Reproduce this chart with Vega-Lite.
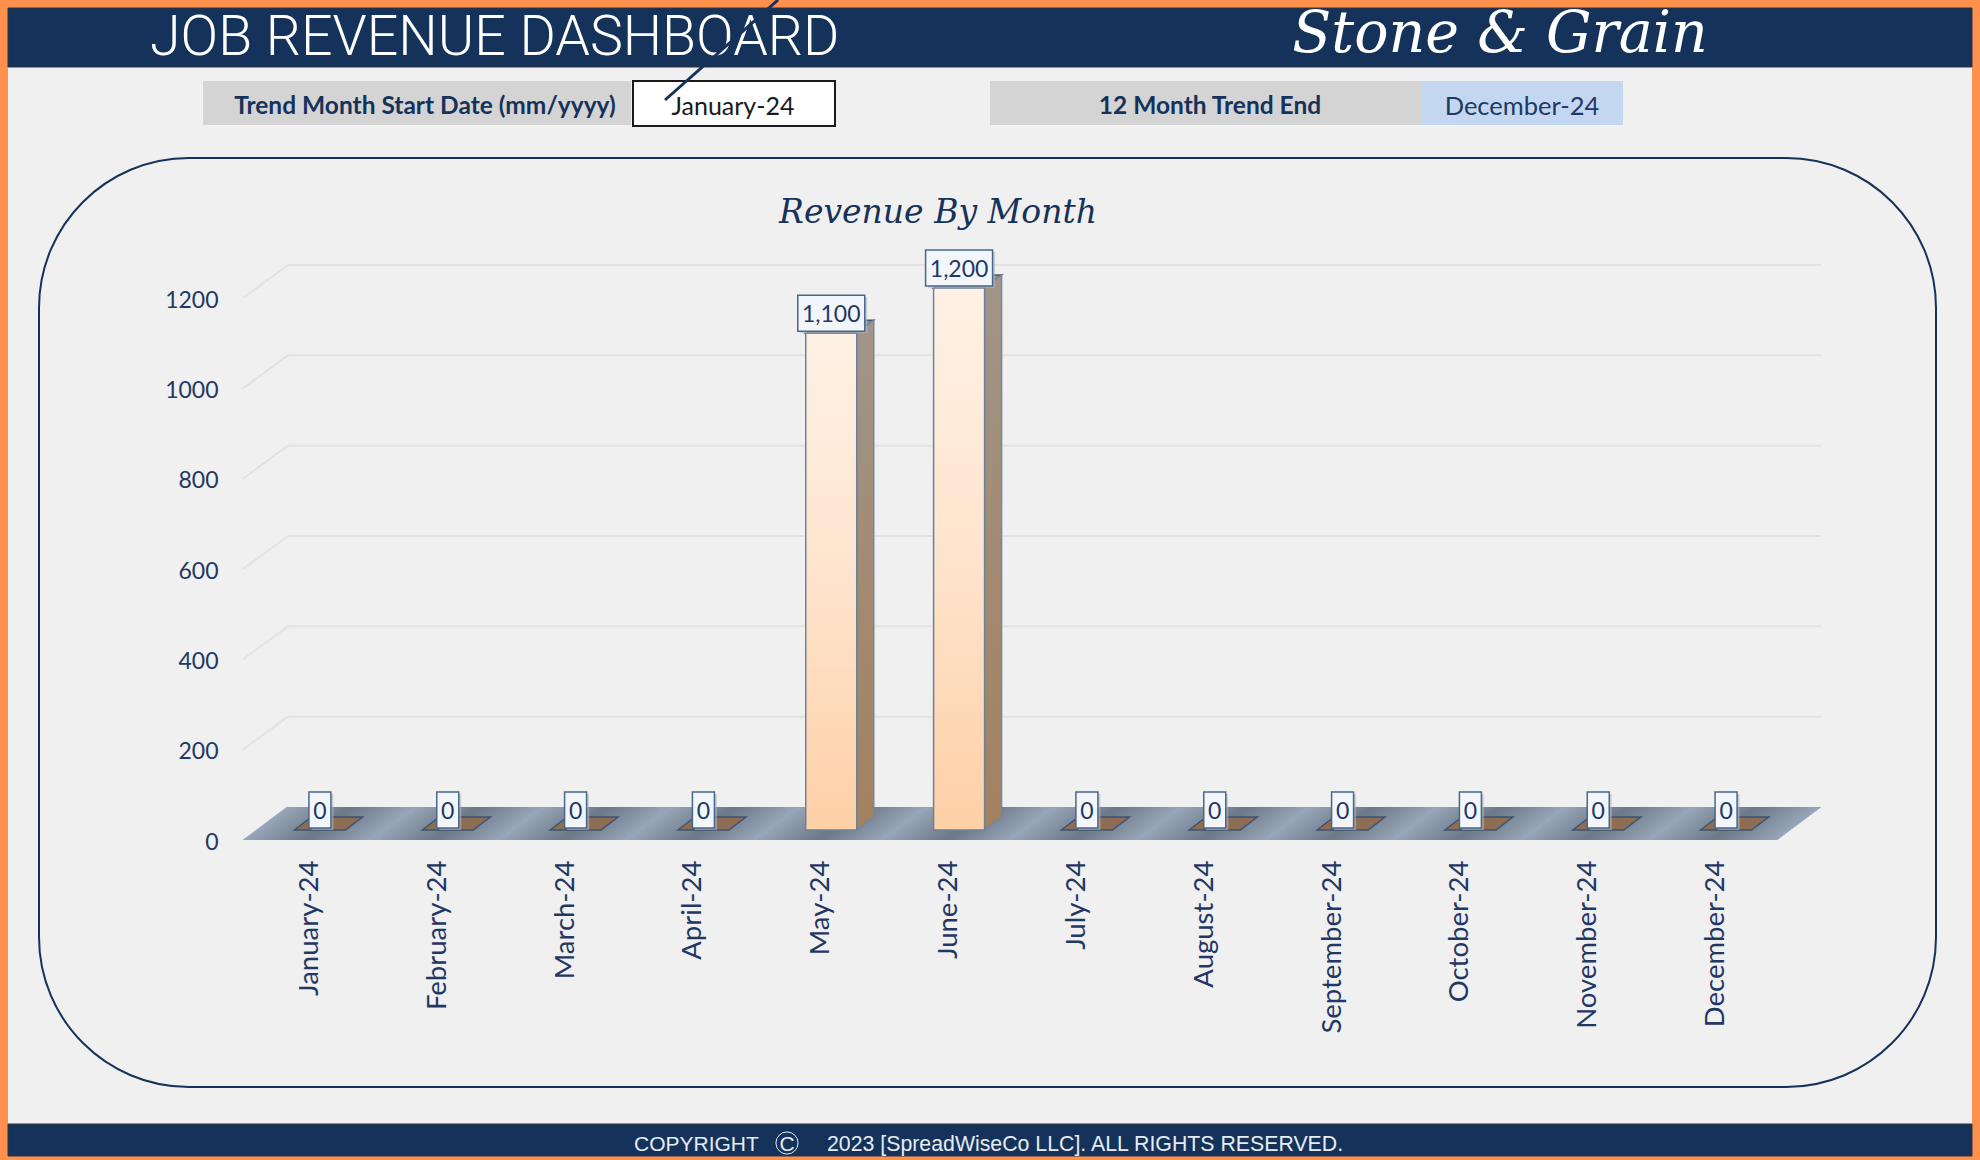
{
"$schema":"https://vega.github.io/schema/vega-lite/v6.json",
"width":1534,"height":542,
"autosize":{"type":"none"},
"padding":{"left":243,"top":298,"right":203,"bottom":320},
"background":"#f0f0f0",
"config":{"view":{"stroke":null},"axis":{"grid":false,"domain":false,"ticks":false,"labelFont":"Lato","labelFontSize":23,"labelColor":"#1f3864"},"text":{"font":"Lato"}},
"datasets":{
"rev":[{"month":"January-24","revenue":0},{"month":"February-24","revenue":0},{"month":"March-24","revenue":0},{"month":"April-24","revenue":0},{"month":"May-24","revenue":1100},{"month":"June-24","revenue":1200},{"month":"July-24","revenue":0},{"month":"August-24","revenue":0},{"month":"September-24","revenue":0},{"month":"October-24","revenue":0},{"month":"November-24","revenue":0},{"month":"December-24","revenue":0}],
"ticks":[{"tick":200},{"tick":400},{"tick":600},{"tick":800},{"tick":1000},{"tick":1200}],
"one":[{"item":"furniture"}]
},
"data":{"name":"rev"},
"layer":[
{"data":{"name":"one"},"mark":{"type":"rect","fill":"#ff914d"},"encoding":{"x":{"value":-243},"x2":{"value":1737},"y":{"value":-298},"y2":{"value":-290}}},
{"data":{"name":"one"},"mark":{"type":"rect","fill":"#ff914d"},"encoding":{"x":{"value":-243},"x2":{"value":1737},"y":{"value":858},"y2":{"value":862}}},
{"data":{"name":"one"},"mark":{"type":"rect","fill":"#ff914d"},"encoding":{"x":{"value":-243},"x2":{"value":-235},"y":{"value":-298},"y2":{"value":862}}},
{"data":{"name":"one"},"mark":{"type":"rect","fill":"#ff914d"},"encoding":{"x":{"value":1729},"x2":{"value":1737},"y":{"value":-298},"y2":{"value":862}}},
{"data":{"name":"one"},"mark":{"type":"rect","fill":"#15325a","stroke":"#2b3440","strokeWidth":1},"encoding":{"x":{"value":-235},"x2":{"value":1729},"y":{"value":-290},"y2":{"value":-231}}},
{"data":{"name":"one"},"mark":{"type":"rect","fill":"#15325a","stroke":"#2b3440","strokeWidth":1},"encoding":{"x":{"value":-235},"x2":{"value":1729},"y":{"value":826},"y2":{"value":858}}},
{"data":{"name":"one"},"mark":{"type":"text","text":"JOB REVENUE DASHBOARD","font":"Roboto","fontWeight":300,"fontSize":55.5,"align":"left","baseline":"alphabetic","fill":"#ffffff"},"encoding":{"x":{"value":-93},"y":{"value":-243}}},
{"data":{"name":"one"},"mark":{"type":"text","text":"Stone & Grain","font":"DejaVu Serif","fontStyle":"italic","fontSize":57,"align":"center","baseline":"alphabetic","fill":"#ffffff"},"encoding":{"x":{"value":1257},"y":{"value":-246}}},
{"data":{"name":"one"},"mark":{"type":"rect","fill":"#d4d4d4"},"encoding":{"x":{"value":-40},"x2":{"value":388},"y":{"value":-217},"y2":{"value":-173}}},
{"data":{"name":"one"},"mark":{"type":"rect","fill":"#ffffff","stroke":"#1a1a1a","strokeWidth":2},"encoding":{"x":{"value":390},"x2":{"value":592},"y":{"value":-217},"y2":{"value":-172}}},
{"data":{"name":"one"},"mark":{"type":"rect","fill":"#d4d4d4"},"encoding":{"x":{"value":747},"x2":{"value":1178},"y":{"value":-217},"y2":{"value":-173}}},
{"data":{"name":"one"},"mark":{"type":"rect","fill":"#c3d7f0"},"encoding":{"x":{"value":1178},"x2":{"value":1380},"y":{"value":-217},"y2":{"value":-173}}},
{"data":{"name":"one"},"mark":{"type":"text","text":"Trend Month Start Date (mm/yyyy)","fontWeight":"bold","fontSize":24.5,"align":"center","baseline":"middle","fill":"#15325a"},"encoding":{"x":{"value":182},"y":{"value":-191}}},
{"data":{"name":"one"},"mark":{"type":"text","text":"January-24","fontSize":25,"align":"center","baseline":"middle","fill":"#1a1a1a"},"encoding":{"x":{"value":490},"y":{"value":-191}}},
{"data":{"name":"one"},"mark":{"type":"text","text":"12 Month Trend End","fontWeight":"bold","fontSize":24.5,"align":"center","baseline":"middle","fill":"#15325a"},"encoding":{"x":{"value":967},"y":{"value":-191}}},
{"data":{"name":"one"},"mark":{"type":"text","text":"December-24","fontSize":25.5,"align":"center","baseline":"middle","fill":"#1f3864"},"encoding":{"x":{"value":1279},"y":{"value":-191}}},
{"data":{"name":"one"},"mark":{"type":"rule","stroke":"#15325a","strokeWidth":3},"encoding":{"x":{"value":535},"x2":{"value":422},"y":{"value":-298},"y2":{"value":-198}}},
{"data":{"name":"one"},"mark":{"type":"rect","fill":"#f0f0f0","fillOpacity":0,"stroke":"#15325a","strokeWidth":2,"cornerRadius":150},"encoding":{"x":{"value":-204},"x2":{"value":1693},"y":{"value":-140},"y2":{"value":789}}},
{"data":{"name":"one"},"mark":{"type":"text","text":"Revenue By Month","font":"DejaVu Serif","fontStyle":"italic","fontSize":33,"align":"center","baseline":"alphabetic","fill":"#15325a"},"encoding":{"x":{"value":695},"y":{"value":-75}}},
{"data":{"name":"one"},"mark":{"type":"text","text":"COPYRIGHT","font":"Liberation Sans","fontSize":21,"align":"left","baseline":"alphabetic","fill":"#e6ecf4"},"encoding":{"x":{"value":391},"y":{"value":853}}},
{"data":{"name":"one"},"mark":{"type":"text","text":"C","font":"Liberation Sans","fontSize":21,"align":"center","baseline":"alphabetic","fill":"#e6ecf4"},"encoding":{"x":{"value":544},"y":{"value":853}}},
{"data":{"name":"one"},"mark":{"type":"point","shape":"circle","size":490,"filled":false,"stroke":"#e6ecf4","strokeWidth":1,"opacity":1},"encoding":{"x":{"value":544},"y":{"value":845}}},
{"data":{"name":"one"},"mark":{"type":"text","text":"2023 [SpreadWiseCo LLC]. ALL RIGHTS RESERVED.","font":"Liberation Sans","fontSize":21.3,"align":"left","baseline":"alphabetic","fill":"#e6ecf4"},"encoding":{"x":{"value":584},"y":{"value":853}}},
{"data":{"name":"ticks"},"mark":{"type":"rule","stroke":"#e2e2e2","strokeWidth":2,"yOffset":-33},"encoding":{"y":{"field":"tick","type":"quantitative","title":null,"scale":{"domain":[0,1200],"nice":false}},"x":{"value":45},"x2":{"value":1578}}},
{"data":{"name":"ticks"},"mark":{"type":"point","shape":"M0,0L45,-33","filled":false,"size":4,"stroke":"#e2e2e2","strokeWidth":2,"opacity":1},"encoding":{"y":{"field":"tick","type":"quantitative","title":null},"x":{"value":0}}},
{"mark":{"type":"point","shape":"M-64.4,0L-20.4,-33L108.4,-33L64.4,0Z","filled":true,"size":4,"opacity":1,"fill":{"gradient":"linear","x1":0,"y1":1,"x2":0.698,"y2":1.179,"stops":[{"offset":0,"color":"#97a6b8"},{"offset":0.3,"color":"#7d8a9b"},{"offset":0.5,"color":"#6c7989"},{"offset":0.7,"color":"#7d8a9b"},{"offset":1,"color":"#97a6b8"}]}},"encoding":{"x":{"field":"month","type":"nominal","sort":null,"title":null,"scale":{"type":"band","paddingInner":0,"paddingOuter":0},"axis":{"labelAngle":270,"labelAlign":"right","labelBaseline":"middle","labelPadding":20,"labelOffset":3,"labelOverlap":false,"labelBound":false,"labelFontSize":27.5}},"y":{"datum":0,"type":"quantitative","title":null,"axis":{"values":[0,200,400,600,800,1000,1200],"format":"d","labelPadding":25,"labelOffset":2}}}},
{"mark":{"type":"point","shape":"M0,0L17,-13L68,-13L51,0Z","filled":true,"size":4,"opacity":1,"stroke":"#3f5270","strokeWidth":1.5,"xOffset":-12.5,"yOffset":-10},"encoding":{"x":{"field":"month","type":"nominal","sort":null,"title":null},"y":{"field":"revenue","type":"quantitative","title":null},"fill":{"condition":{"test":"datum.revenue>0","value":"#9a8b7d"},"value":"#8d6e55"}}},
{"transform":[{"filter":"datum.revenue>0"}],"mark":{"type":"point","filled":true,"size":4,"opacity":1,"stroke":"#7488a0","strokeWidth":1.5,"xOffset":38.5,"yOffset":-10,"fill":{"gradient":"linear","x1":0,"y1":0,"x2":0,"y2":1,"stops":[{"offset":0,"color":"#a19589"},{"offset":1,"color":"#a2815f"}]}},"encoding":{"x":{"field":"month","type":"nominal","sort":null,"title":null},"y":{"field":"revenue","type":"quantitative","title":null},"shape":{"condition":{"test":"datum.revenue===1100","value":"M0,0L17,-13L17,484L0,497Z"},"value":"M0,0L17,-13L17,529L0,542Z"}}},
{"transform":[{"filter":"datum.revenue>0"}],"mark":{"type":"bar","width":51,"xOffset":13,"yOffset":-10,"y2Offset":-10,"stroke":"#6f8198","strokeWidth":1.5,"fill":{"gradient":"linear","x1":0,"y1":0,"x2":0,"y2":1,"stops":[{"offset":0,"color":"#fff1e5"},{"offset":0.5,"color":"#fee4cd"},{"offset":1,"color":"#fed0a6"}]}},"encoding":{"x":{"field":"month","type":"nominal","sort":null,"title":null},"y":{"field":"revenue","type":"quantitative","title":null}}},
{"mark":{"type":"point","filled":true,"size":4,"opacity":0.6,"fill":"#b4bac2","xOffset":15.5,"yOffset":-28},"encoding":{"x":{"field":"month","type":"nominal","sort":null,"title":null},"y":{"field":"revenue","type":"quantitative","title":null},"shape":{"condition":{"test":"datum.revenue>0","value":"M-33.5,-18H33.5V18H-33.5Z"},"value":"M-11,-18H11V18H-11Z"}}},
{"mark":{"type":"point","filled":true,"size":4,"opacity":1,"fill":"#f2f5f9","stroke":"#48678c","strokeWidth":1.5,"xOffset":13,"yOffset":-30},"encoding":{"x":{"field":"month","type":"nominal","sort":null,"title":null},"y":{"field":"revenue","type":"quantitative","title":null},"shape":{"condition":{"test":"datum.revenue>0","value":"M-33.5,-18H33.5V18H-33.5Z"},"value":"M-11,-18H11V18H-11Z"}}},
{"mark":{"type":"text","fontSize":23,"align":"center","baseline":"middle","fill":"#1f3864","xOffset":13,"yOffset":-28.5},"encoding":{"x":{"field":"month","type":"nominal","sort":null,"title":null},"y":{"field":"revenue","type":"quantitative","title":null},"text":{"field":"revenue","type":"quantitative","format":","}}}
]
}
